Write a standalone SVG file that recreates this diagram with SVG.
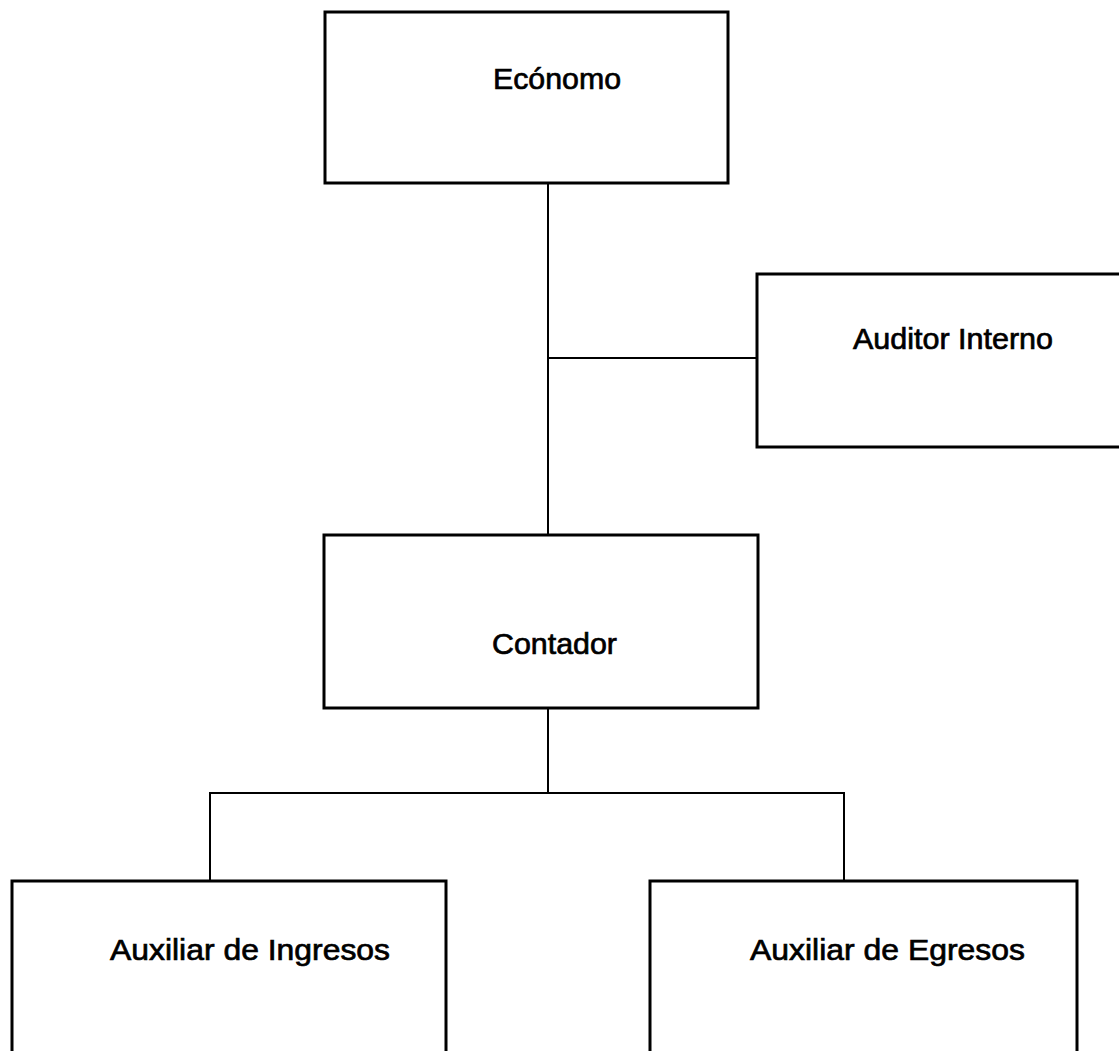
<svg xmlns="http://www.w3.org/2000/svg" width="1119" height="1051" viewBox="0 0 1119 1051">
<style>
.box{fill:#fff;stroke:#000;stroke-width:3}
.lbl{font-family:"Liberation Sans",Arial,sans-serif;font-size:30px;fill:#000;stroke:#000;stroke-width:0.7}
.conn{stroke:#000;stroke-width:2;fill:none}
</style>
<rect width="1119" height="1051" fill="#fff"/>
<g id="connectors">
<line class="conn" x1="548" y1="183" x2="548" y2="535"/>
<line class="conn" x1="548" y1="358" x2="757" y2="358"/>
<line class="conn" x1="548" y1="708" x2="548" y2="793"/>
<polyline class="conn" points="210,881 210,793 844,793 844,881"/>
</g>
<g id="economo">
<rect class="box" x="325" y="12" width="403" height="171"/>
<text class="lbl" x="493" y="89" textLength="128" lengthAdjust="spacingAndGlyphs">Ecónomo</text>
</g>
<g id="auditor">
<rect class="box" x="757" y="274" width="380" height="173"/>
<text class="lbl" x="853" y="349" textLength="200" lengthAdjust="spacingAndGlyphs">Auditor Interno</text>
</g>
<g id="contador">
<rect class="box" x="324" y="535" width="434" height="173"/>
<text class="lbl" x="492" y="654" textLength="125" lengthAdjust="spacingAndGlyphs">Contador</text>
</g>
<g id="aux-ingresos">
<rect class="box" x="12" y="881" width="434" height="200"/>
<text class="lbl" x="110" y="960" textLength="280" lengthAdjust="spacingAndGlyphs">Auxiliar de Ingresos</text>
</g>
<g id="aux-egresos">
<rect class="box" x="650" y="881" width="427" height="200"/>
<text class="lbl" x="750" y="960" textLength="275" lengthAdjust="spacingAndGlyphs">Auxiliar de Egresos</text>
</g>
</svg>
